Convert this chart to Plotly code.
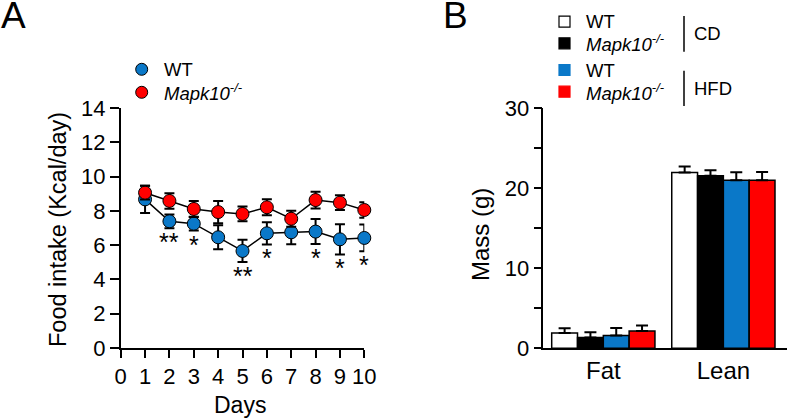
import plotly.graph_objects as go

W, H = 787, 418
FONT = "Liberation Sans, Arial, Helvetica, sans-serif"

# ---- Panel A data ----
days = [1, 2, 3, 4, 5, 6, 7, 8, 9, 10]
wt_mean = [8.67, 7.39, 7.25, 6.46, 5.66, 6.69, 6.75, 6.79, 6.34, 6.42]
wt_err = [0.80, 0.40, 0.40, 0.70, 0.65, 0.65, 0.70, 0.73, 0.88, 0.78]
ko_mean = [9.06, 8.58, 8.11, 7.93, 7.82, 8.21, 7.54, 8.63, 8.48, 8.05]
ko_err = [0.40, 0.45, 0.47, 0.65, 0.43, 0.46, 0.47, 0.49, 0.43, 0.45]
sig_days = [2, 3, 5, 6, 8, 9, 10]
sig_labels = ["**", "*", "**", "*", "*", "*", "*"]
a_xticks = list(range(0, 11))
a_yticks = [0, 2, 4, 6, 8, 10, 12, 14]

# ---- Panel B data ----
compartments = ["Fat", "Lean"]
b_groups = ["WT CD", "Mapk10 CD", "WT HFD", "Mapk10 HFD"]
b_values = [[1.9, 21.96], [1.35, 21.58], [1.6, 21.0], [2.17, 21.0]]
b_errors = [[0.6, 0.75], [0.67, 0.67], [0.95, 1.0], [0.67, 1.04]]
b_colors = ["#ffffff", "#000000", "#0a78c8", "#ff0000"]
b_yticks = [0, 5, 10, 15, 20, 25, 30]
b_yticklabels = ["0", "", "10", "", "20", "", "30"]

BLUE = "#0a78c8"
RED = "#ff0000"

def px(x):
    return x / W

def py(y):
    return 1 - y / H

fig = go.Figure()

# Panel A traces
fig.add_trace(go.Scatter(
    x=days, y=wt_mean, mode="lines+markers",
    line=dict(color="black", width=1.5),
    marker=dict(size=13, color=BLUE, line=dict(color="black", width=1)),
    error_y=dict(type="data", array=wt_err, visible=True, color="black", thickness=2, width=5),
    xaxis="x", yaxis="y", showlegend=False, cliponaxis=False))
fig.add_trace(go.Scatter(
    x=days, y=ko_mean, mode="lines+markers",
    line=dict(color="black", width=1.5),
    marker=dict(size=13, color=RED, line=dict(color="black", width=1)),
    error_y=dict(type="data", array=ko_err, visible=True, color="black", thickness=2, width=5),
    xaxis="x", yaxis="y", showlegend=False, cliponaxis=False))

# Panel B traces
for i, g in enumerate(b_groups):
    fig.add_trace(go.Bar(
        x=compartments, y=b_values[i], name=g,
        marker=dict(color=b_colors[i], line=dict(color="black", width=1.5)),
        error_y=dict(type="data", symmetric=False, array=b_errors[i],
                     arrayminus=[0] * len(compartments), visible=True,
                     color="black", thickness=2, width=6),
        xaxis="x2", yaxis="y2", showlegend=False))

tickfont = dict(family=FONT, size=22, color="black")

fig.update_layout(
    width=W, height=H, autosize=False, showlegend=False,
    margin=dict(l=0, r=0, t=0, b=0, pad=0),
    paper_bgcolor="white", plot_bgcolor="white",
    font=dict(family=FONT, color="black"),
    barmode="group", bargap=0.14, bargroupgap=0,
    xaxis=dict(domain=[px(120.7), px(364.3)], range=[0, 10], anchor="y",
               tickvals=a_xticks, ticks="outside", ticklen=8, tickwidth=1.5,
               tickcolor="black", showline=True, linecolor="black", linewidth=1.5,
               showgrid=False, zeroline=False, tickfont=tickfont, automargin=False),
    yaxis=dict(domain=[py(348), py(108)], range=[0, 14], anchor="x",
               tickvals=a_yticks, ticks="outside", ticklen=9, tickwidth=1.5,
               tickcolor="black", showline=True, linecolor="black", linewidth=1.5,
               showgrid=False, zeroline=False, tickfont=tickfont, automargin=False),
    xaxis2=dict(domain=[px(543.3), 1.0], range=[-0.5, 1.53], anchor="y2",
                ticks="", showline=True, linecolor="black", linewidth=1.5,
                showgrid=False, zeroline=False, automargin=False,
                tickfont=dict(family=FONT, size=24, color="black")),
    yaxis2=dict(domain=[py(348.3), py(108.3)], range=[0, 30], anchor="x2",
                tickvals=b_yticks, ticktext=b_yticklabels, ticks="outside", ticklen=8,
                tickwidth=1.5, tickcolor="black", showline=True, linecolor="black",
                linewidth=1.5, showgrid=False, zeroline=False, tickfont=tickfont,
                automargin=False),
)

ann = []
def pann(text, x, y, size, xanchor="center", yanchor="middle", **kw):
    ann.append(dict(text=text, x=px(x), y=py(y), xref="paper", yref="paper",
                    xanchor=xanchor, yanchor=yanchor, showarrow=False,
                    font=dict(family=FONT, size=size, color="black"), **kw))

# axis titles
pann("Food intake (Kcal/day)", 58, 229, 23.5, textangle=-90)
pann("Days", 240, 405, 23)
pann("Mass (g)", 480, 235, 24, textangle=-90)
# panel labels
pann("A", 13, 15, 37)
pann("B", 455, 15, 37)

# significance stars
for d, s in zip(sig_days, sig_labels):
    i = days.index(d)
    ann.append(dict(text=s, x=d, y=wt_mean[i] - wt_err[i], xref="x", yref="y",
                    xanchor="center", yanchor="top", yshift=2, showarrow=False,
                    font=dict(family=FONT, size=25, color="black")))

# legend A
shapes = []
leg_a = [("WT", BLUE, 69.3), ("<i>Mapk10<sup>-/-</sup></i>", RED, 92.3)]
for txt, col, yy in leg_a:
    shapes.append(dict(type="circle", xref="paper", yref="paper",
                       x0=px(135.7), x1=px(147.7), y0=py(yy + 6), y1=py(yy - 6),
                       fillcolor=col, line=dict(color="black", width=1)))
    pann(txt, 162, yy, 18.5, xanchor="left")

# legend B
leg_b = [("WT", b_colors[0], 21.7), ("<i>Mapk10<sup>-/-</sup></i>", b_colors[1], 43.3),
         ("WT", b_colors[2], 70.0), ("<i>Mapk10<sup>-/-</sup></i>", b_colors[3], 91.7)]
for txt, col, yy in leg_b:
    shapes.append(dict(type="rect", xref="paper", yref="paper",
                       x0=px(559), x1=px(570), y0=py(yy + 5.5), y1=py(yy - 5.5),
                       fillcolor=col, line=dict(color="black" if col == "#ffffff" else col, width=1.2)))
    pann(txt, 584, yy, 18.5, xanchor="left")
# brackets
for y0, y1, lab in [(16, 51.7, "CD"), (70.7, 106, "HFD")]:
    shapes.append(dict(type="line", xref="paper", yref="paper", x0=px(684), x1=px(684),
                       y0=py(y0), y1=py(y1), line=dict(color="black", width=1.5)))
    pann(lab, 692, (y0 + y1) / 2, 18.5, xanchor="left")

fig.update_layout(annotations=ann, shapes=shapes)
fig.write_html("out.html", config={"displayModeBar": False},
               post_script="document.body.style.margin='0';document.body.style.overflow='hidden';")
